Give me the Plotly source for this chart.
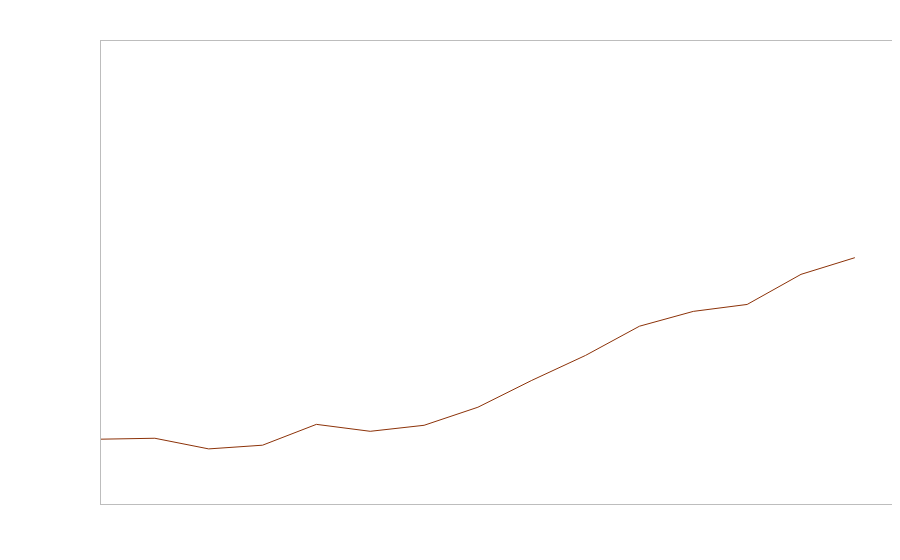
import plotly.graph_objects as go

years = list(range(2000, 2015))
values = [14.0, 14.2, 11.9, 12.7, 17.2, 15.7, 17.0, 20.9, 26.7, 32.1, 38.4, 41.6, 43.1, 49.6, 53.2]

fig = go.Figure()

fig.add_trace(go.Scatter(
    x=years,
    y=values,
    mode='lines',
    line=dict(color='#8c3209', width=1),
    showlegend=False,
))

fig.update_layout(
    width=900,
    height=560,
    margin=dict(l=93, r=16, t=33, b=64),
    paper_bgcolor='white',
    plot_bgcolor='white',
    xaxis=dict(
        range=[2000, 2014.69],
        showgrid=False,
        zeroline=False,
        showticklabels=False,
        ticks='',
        showline=True,
        linecolor='#bdbdbd',
        linewidth=1,
        mirror=True,
    ),
    yaxis=dict(
        range=[0, 100],
        showgrid=False,
        zeroline=False,
        showticklabels=False,
        ticks='',
        showline=True,
        linecolor='#bdbdbd',
        linewidth=1,
        mirror=True,
    ),
)

fig.write_html("out.html")
